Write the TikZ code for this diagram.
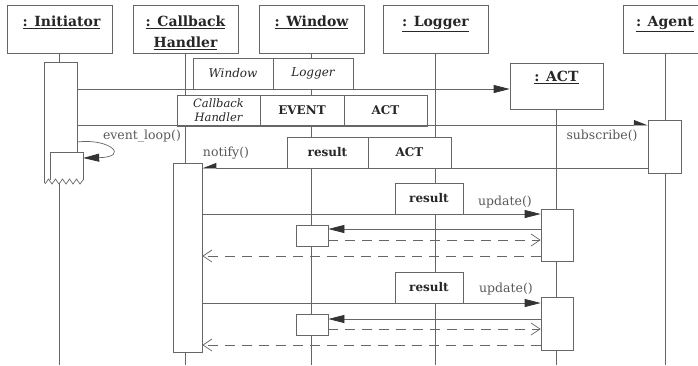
\documentclass[tikz,border=0pt]{standalone}
\usepackage{fontspec}
\setmainfont{DejaVu Serif}
\usetikzlibrary{arrows.meta,calc}
\begin{document}
\begin{tikzpicture}[x=1pt,y=-1pt,
  ln/.style={draw=black!60, line width=0.7pt},
  objbox/.style={ln, fill=white, inner sep=0pt, minimum height=48pt},
  objlabel/.style={anchor=base, inner sep=0pt, text=black!85,
    font=\fontsize{14}{17}\selectfont\bfseries},
  cell/.style={ln, fill=white, inner sep=0pt, minimum height=31pt, text=black!85,
    font=\fontsize{12}{13}\selectfont},
  actbar/.style={ln, fill=white, inner sep=0pt},
  life/.style={ln, line width=0.6pt},
  msg/.style={ln, -{Triangle[length=16pt,width=8pt,color=black!80]}},
  half/.style={ln, -{Triangle[harpoon,length=13pt,width=10pt,color=black!80]}},
  halfsw/.style={ln, -{Triangle[harpoon,swap,length=13pt,width=10pt,color=black!80]}},
  ret/.style={ln, dash pattern=on 10pt off 7pt, -{Straight Barb[length=9pt,width=12pt]}},
  mlabel/.style={inner sep=0pt, text=black!65, font=\fontsize{12.5}{14}\selectfont}
]
\useasboundingbox (0,0) rectangle (698,365);
\clip (0,0) rectangle (698,365);
\fill[white] (0,0) rectangle (698,365);

% object boxes
\node[objbox, minimum width=105pt] (init) at (59.5,29) {};
\node[objbox, minimum width=105pt] (cb) at (185.5,29) {};
\node[objbox, minimum width=105pt] (win) at (311.5,29) {};
\node[objbox, minimum width=105pt] (log) at (435.5,29) {};
\node[objbox, minimum width=84pt] (agent) at (665,29) {};
\node[objbox, minimum width=93pt, minimum height=46pt] (act) at (556.5,86) {};

\node[objlabel] at ($(init.north)+(2,22)$) {\underline{: Initiator}};
\node[objlabel] at ($(cb.north)+(0,22)$) {\underline{: Callback}};
\node[objlabel] at ($(cb.north)+(0,43)$) {\underline{Handler}};
\node[objlabel] at ($(win.north)+(0,22)$) {\underline{: Window}};
\node[objlabel] at ($(log.north)+(0,22)$) {\underline{: Logger}};
\node[objlabel] at ($(agent.north)+(0,22)$) {\underline{: Agent}};
\node[objlabel] at ($(act.north)+(0,19)$) {\underline{: ACT}};

% lifelines
\coordinate (bot) at (0,365);
\draw[life] (init.south) -- (init.south |- bot);
\draw[life] (cb.south) -- (cb.south |- bot);
\draw[life] (win.south) -- (win.south |- bot);
\draw[life] (log.south) -- (log.south |- bot);
\draw[life] (act.south) -- (act.south |- bot);
\draw[life] (agent.south) -- (agent.south |- bot);

% initiator activation with nested event loop
\node[inner sep=0pt, fill=white, minimum width=32pt, minimum height=120pt] (initact) at (61,123) {};
\draw[ln] (initact.south west) -- (initact.north west) -- (initact.north east) -- ($(initact.north east)+(0,90)$);
\node[inner sep=0pt, fill=white, minimum width=32pt, minimum height=27pt] (loopbox) at (67,166.5) {};
\draw[ln] (loopbox.south west) -- (loopbox.north west) -- (loopbox.north east) -- (loopbox.south east);
\draw[ln] (45,184) -- (48.5,179) -- (52,184) -- (55.5,179) -- (59,184) -- (62.5,179) -- (66,184) -- (69.5,179) -- (73,184) -- (76.5,179) -- (80,184) -- (83,180);

% other activations
\node[actbar, minimum width=29pt, minimum height=189pt] (cbact) at (187.5,257.5) {};
\node[actbar, minimum width=33pt, minimum height=53pt] (agact) at (664.5,146.5) {};
\node[actbar, minimum width=32pt, minimum height=52pt] (actA) at (557,235) {};
\node[actbar, minimum width=32pt, minimum height=53pt] (actB) at (557,323.5) {};
\node[actbar, minimum width=32pt, minimum height=21pt] (winA) at (312,235.5) {};
\node[actbar, minimum width=32pt, minimum height=21pt] (winB) at (312,324.5) {};

% parameter cells
\node[cell, minimum width=80pt] (p1a) at (233,73.5) {\itshape Window};
\node[cell, minimum width=80pt] (p1b) at (313,73.5) {\itshape Logger};
\node[cell, minimum width=83pt, align=center, font=\fontsize{11.5}{14}\selectfont\itshape] (p2a) at (218.5,110.5) {Callback\\Handler};
\node[cell, minimum width=84pt] (p2b) at (302,110.5) {\bfseries EVENT};
\node[cell, minimum width=83pt] (p2c) at (385.5,110.5) {\bfseries ACT};
\node[cell, minimum width=81pt] (p3a) at (327.5,152.5) {\bfseries result};
\node[cell, minimum width=83pt] (p3b) at (409.5,152.5) {\bfseries ACT};
\node[cell, minimum width=68pt] (p4) at (429,198.5) {\bfseries result};
\node[cell, minimum width=68pt] (p5) at (429,287.5) {\bfseries result};

% messages
\coordinate (y1) at (0,89);
\coordinate (y2) at (0,125);
\coordinate (y3) at (0,168);
\coordinate (y4) at (0,214);
\coordinate (y5) at (0,229);
\coordinate (y6) at (0,240);
\coordinate (y7) at (0,256);
\coordinate (y8) at (0,303);
\coordinate (y9) at (0,319);
\coordinate (y10) at (0,329);
\coordinate (y11) at (0,345);

\draw[msg] (initact.east |- y1) -- (act.west |- y1);
\draw[half] (initact.east |- y2) -- (agact.west |- y2);
\draw[halfsw] (agact.west |- y3) -- (cbact.east |- y3);
\draw[msg] (cbact.east |- y4) -- (actA.west |- y4);
\draw[msg] (actA.west |- y5) -- (winA.east |- y5);
\draw[ret] (winA.east |- y6) -- (actA.west |- y6);
\draw[ret] (actA.west |- y7) -- (cbact.east |- y7);
\draw[msg] (cbact.east |- y8) -- (actB.west |- y8);
\draw[msg] (actB.west |- y9) -- (winB.east |- y9);
\draw[ret] (winB.east |- y10) -- (actB.west |- y10);
\draw[ret] (actB.west |- y11) -- (cbact.east |- y11);

% self call
\draw[ln, -{Triangle[length=16pt,width=8pt,color=black!80]}] (initact.east |- 0,142) .. controls (110,138) and (130,157) .. (loopbox.east |- 0,158);

% message labels
\node[mlabel] at (142,136) {event\_loop()};
\node[mlabel] at (602,136) {subscribe()};
\node[mlabel] at (226,153) {notify()};
\node[mlabel] at (505,202) {update()};
\node[mlabel] at (506,289) {update()};
\end{tikzpicture}
\end{document}
